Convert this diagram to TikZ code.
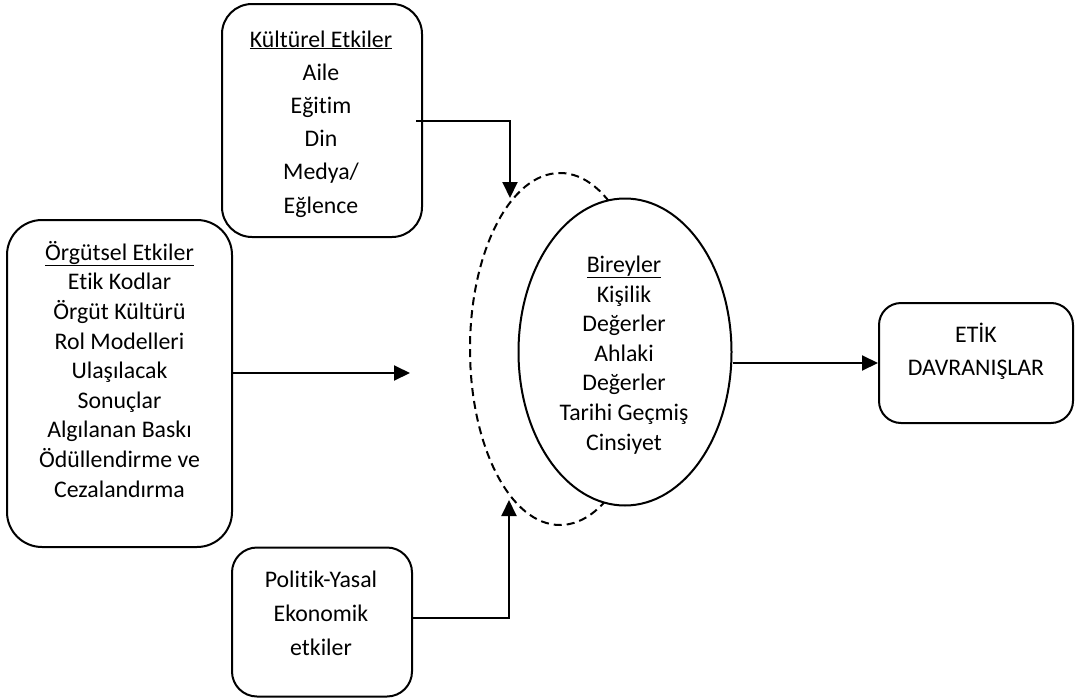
\documentclass[tikz,border=0pt]{standalone}
\usepackage{fontspec}
\setmainfont[Ligatures=NoCommon]{Carlito}
\usetikzlibrary{arrows.meta,shapes.geometric}
\begin{document}
\begin{tikzpicture}[x=1pt,y=-1pt,
  line width=2pt,
  box/.style={draw,rounded corners=#1,inner sep=0pt},
  txt/.style={align=center,inner sep=0pt,anchor=base,font=\fontsize{23.8}{29.6}\selectfont},
  arr/.style={-{Triangle[length=16pt,width=15pt]}}
]
\useasboundingbox (0,0) rectangle (1077,699);
% shapes
\node[box=30pt,minimum width=200pt,minimum height=233pt] (kultur) at (322,120.5) {};
\node[box=35pt,minimum width=225pt,minimum height=327pt] (orgut) at (119.5,383.5) {};
\node[box=25pt,minimum width=180pt,minimum height=149pt] (politik) at (322,622) {};
\node[box=22pt,minimum width=194pt,minimum height=120pt] (etik) at (976,363) {};
\node[draw,ellipse,dash pattern=on 8pt off 5pt,minimum width=180pt,minimum height=352pt,inner sep=0pt] (dash) at (560,349) {};
\node[draw,fill=white,ellipse,minimum width=213pt,minimum height=307pt,inner sep=0pt] (birey) at (625,352) {};
% texts (anchor base = last line baseline)
\node[txt,font=\fontsize{23.8}{33.2}\selectfont] (tk) at (321,213) {\underline{Kültürel Etkiler}\\Aile\\Eğitim\\Din\\Medya/\\Eğlence};
\node[txt] (to) at (119.5,497) {\underline{Örgütsel Etkiler}\\Etik Kodlar\\Örgüt Kültürü\\Rol Modelleri\\Ulaşılacak\\Sonuçlar\\Algılanan Baskı\\Ödüllendirme ve\\Cezalandırma};
\node[txt,font=\fontsize{23.8}{34}\selectfont] (tp) at (321,655) {Politik-Yasal\\Ekonomik\\etkiler};
\node[txt,font=\fontsize{23.8}{33}\selectfont] (te) at (976,375) {ETİK\\DAVRANIŞLAR};
\node[txt] (tb) at (624,450) {\underline{Bireyler}\\Kişilik\\Değerler\\Ahlaki\\Değerler\\Tarihi Geçmiş\\Cinsiyet};
% connectors
\coordinate (topin) at (510,198);
\coordinate (leftin) at (410,373);
\coordinate (botin) at (509,500);
\draw[arr] ([xshift=-7pt]kultur.east) -| (topin);
\draw[arr] (orgut.east |- leftin) -- (leftin);
\draw[arr] ([yshift=4pt]politik.east) -| (botin);
\draw[arr] (birey.east |- etik.west) -- (etik.west);
\end{tikzpicture}
\end{document}
